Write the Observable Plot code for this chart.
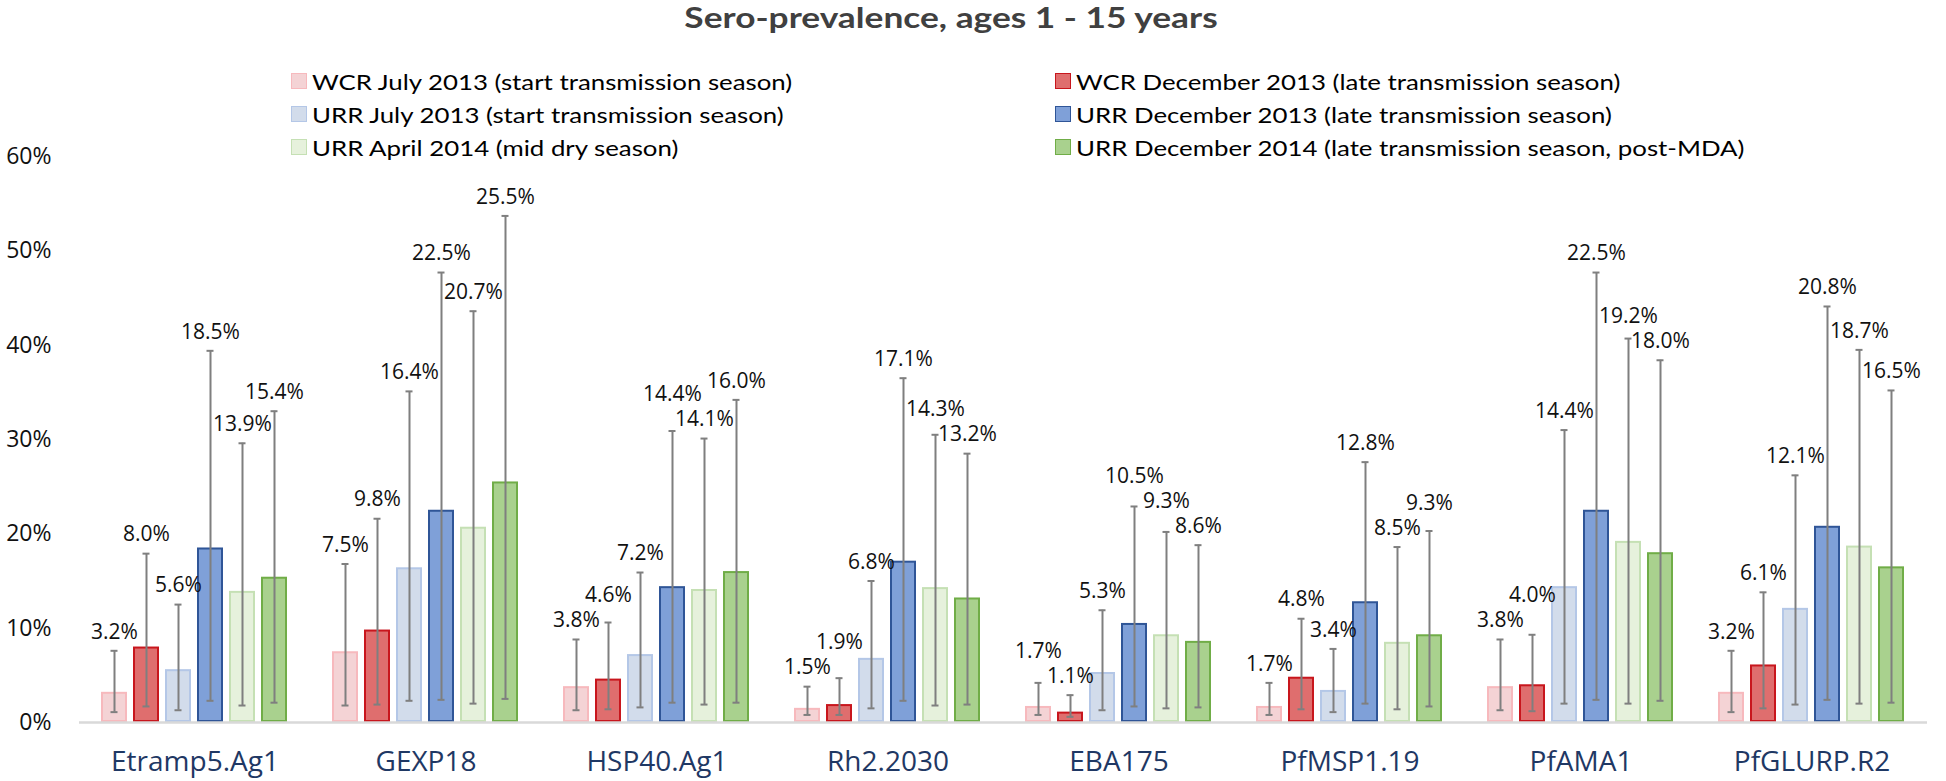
<!DOCTYPE html>
<html>
<head>
<meta charset="utf-8">
<script src="https://cdn.jsdelivr.net/npm/d3@7"></script>
<script src="https://cdn.jsdelivr.net/npm/@observablehq/plot@0.6"></script>
<style>
  html, body { margin: 0; padding: 0; background: #fff; }
  #wrap { position: relative; width: 1946px; height: 781px; overflow: hidden; }
  #chart { position: absolute; left: 0; top: 0; }
  #title { position: absolute; top: 0px; left: 951px; white-space: nowrap; transform-origin: center;
           font-family: Lato, "Open Sans", sans-serif; font-weight: 700; font-size: 29px; color: #404040; line-height: 34px; }
  .leg { position: absolute; display: flex; align-items: center; white-space: nowrap;
         font-family: Lato, "Open Sans", sans-serif; font-size: 21px; color: #000; height: 24px; }
  .leg .sw { width: 16px; height: 16px; box-sizing: border-box; border: 1.5px solid; margin-right: 5px; flex: none; }
  .leg span { display: inline-block; transform-origin: left center; }
</style>
</head>
<body>
<div id="wrap">
  <div id="chart"></div>
  <div id="title"></div>
  <div id="legend"></div>
</div>
<script>
const titleText = "Sero-prevalence, ages 1 - 15 years";
const antigens = ["Etramp5.Ag1", "GEXP18", "HSP40.Ag1", "Rh2.2030", "EBA175", "PfMSP1.19", "PfAMA1", "PfGLURP.R2"];
const series = [
  "WCR July 2013 (start transmission season)",
  "WCR December 2013 (late transmission season)",
  "URR July 2013 (start transmission season)",
  "URR December 2013 (late transmission season)",
  "URR April 2014 (mid dry season)",
  "URR December 2014 (late transmission season, post-MDA)"
];
// sero-prevalence (%) per antigen, in series order
const values = [
  [3.2, 8.0, 5.6, 18.5, 13.9, 15.4],
  [7.5, 9.8, 16.4, 22.5, 20.7, 25.5],
  [3.8, 4.6, 7.2, 14.4, 14.1, 16.0],
  [1.5, 1.9, 6.8, 17.1, 14.3, 13.2],
  [1.7, 1.1, 5.3, 10.5, 9.3, 8.6],
  [1.7, 4.8, 3.4, 12.8, 8.5, 9.3],
  [3.8, 4.0, 14.4, 22.5, 19.2, 18.0],
  [3.2, 6.1, 12.1, 20.8, 18.7, 16.5]
];
// lower 95% CI (%)
const lower = [
  [1.1, 1.7, 1.3, 2.3, 1.8, 2.1],
  [1.8, 1.9, 2.3, 2.4, 2.0, 2.5],
  [1.3, 1.4, 1.6, 2.1, 1.9, 2.1],
  [0.8, 0.8, 1.5, 2.3, 1.8, 1.9],
  [0.8, 0.6, 1.3, 1.7, 1.5, 1.6],
  [0.8, 1.4, 1.1, 2.0, 1.4, 1.7],
  [1.3, 1.2, 2.0, 2.4, 2.0, 2.3],
  [1.1, 1.5, 1.9, 2.4, 2.0, 2.1]
];
// upper 95% CI (%)
const upper = [
  [7.6, 17.9, 12.5, 39.4, 29.6, 33.0],
  [16.8, 21.6, 35.1, 47.7, 43.6, 53.7],
  [8.8, 10.6, 15.9, 30.9, 30.1, 34.2],
  [3.8, 4.7, 15.0, 36.5, 30.5, 28.5],
  [4.2, 2.9, 11.9, 22.9, 20.2, 18.8],
  [4.2, 11.0, 7.8, 27.6, 18.6, 20.3],
  [8.8, 9.3, 31.0, 47.7, 40.7, 38.4],
  [7.6, 13.8, 26.2, 44.1, 39.5, 35.2]
];
const yTicks = [0, 10, 20, 30, 40, 50, 60];

const fills   = ["#f4d3d5", "#df6e6e", "#d2dceb", "#7fa0d8", "#e6f1dc", "#a9d18e"];
const strokes = ["#f7b9bd", "#c8161d", "#b4c7e7", "#2f5597", "#c5e0b4", "#70ad47"];

const W = 1946, H = 781, mTop = 156, mBottom = 59, mLeft = 76, mRight = 16;
const yScale = Plot.scale({y: {domain: [0, 60], range: [H - mBottom, mTop]}});

// value labels sit above the upper whisker; adjacent labels that would collide
// are dodged upward (the taller whisker's label goes on top)
const labelGap = 19, minSep = 25;
const labelY = upper.map(u => {
  const pos = u.map(h => yScale.apply(h) - labelGap);
  for (let iter = 0; iter < 50; iter++) {
    let changed = false;
    for (let j = 1; j < pos.length; j++) {
      if (Math.abs(pos[j] - pos[j - 1]) < minSep) {
        if (u[j] >= u[j - 1]) pos[j] = Math.min(pos[j], pos[j - 1] - minSep);
        else pos[j - 1] = Math.min(pos[j - 1], pos[j] - minSep);
        changed = true;
      }
    }
    if (!changed) break;
  }
  return pos.map(p => yScale.invert(p));
});

const rows = [];
antigens.forEach((a, i) => series.forEach((s, j) => {
  rows.push({antigen: a, series: s, value: values[i][j], lo: lower[i][j], hi: upper[i][j], ly: labelY[i][j], k: j});
}));

const chart = Plot.plot({
  width: W,
  height: H,
  marginLeft: mLeft,
  marginRight: mRight,
  marginTop: mTop,
  marginBottom: mBottom,
  style: {fontFamily: "'Open Sans', sans-serif", background: "white"},
  fx: {domain: antigens, padding: 0, label: null},
  x: {domain: series, paddingInner: 0.18, paddingOuter: 0.6, axis: null},
  y: {domain: [0, 60], label: null},
  color: {domain: series, range: fills},
  marks: [
    Plot.axisY({ticks: yTicks, tickFormat: d => d + "%", tickSize: 0, tickPadding: 28, fontSize: 23, color: "#111", label: null}),
    Plot.axisFx({anchor: "bottom", tickSize: 0, tickPadding: 29, fontSize: 28, color: "#1f3864", label: null}),
    Plot.barY(rows, {fx: "antigen", x: "series", y: "value", fill: "series",
      stroke: d => strokes[d.k], strokeWidth: 2, inset: 1}),
    Plot.ruleY([0], {stroke: "#d9d9d9", strokeWidth: 2.5}),
    Plot.ruleX(rows, {fx: "antigen", x: "series", y1: "lo", y2: "hi", stroke: "#7f7f7f", strokeWidth: 2}),
    Plot.tickY(rows, {fx: "antigen", x: "series", y: "lo", stroke: "#7f7f7f", strokeWidth: 2, insetLeft: 9.5, insetRight: 9.5}),
    Plot.tickY(rows, {fx: "antigen", x: "series", y: "hi", stroke: "#7f7f7f", strokeWidth: 2, insetLeft: 9.5, insetRight: 9.5}),
    Plot.text(rows, {fx: "antigen", x: "series", y: "ly", text: d => d.value.toFixed(1) + "%",
      fontSize: 21, fill: "#111"})
  ]
});
document.getElementById("chart").appendChild(chart);

const titleEl = document.getElementById("title");
titleEl.textContent = titleText;

// legend: two columns, three rows
const legend = document.getElementById("legend");
const colLeft = [291, 1055];
const rowTop = [69, 102, 135];
const spans = [];
series.forEach((s, j) => {
  const col = j % 2, row = Math.floor(j / 2);
  const item = document.createElement("div");
  item.className = "leg";
  item.style.left = colLeft[col] + "px";
  item.style.top = rowTop[row] + "px";
  const sw = document.createElement("div");
  sw.className = "sw";
  sw.style.background = fills[j];
  sw.style.borderColor = strokes[j];
  const t = document.createElement("span");
  t.textContent = s;
  item.appendChild(sw);
  item.appendChild(t);
  legend.appendChild(item);
  spans.push(t);
});

// the reference's text is horizontally wider than these fonts: stretch to match its widths
function fitText() {
  const tw = titleEl.offsetWidth;
  titleEl.style.transform = `translateX(-50%) scaleX(${533 / tw})`;
  const k = (481 / spans[0].offsetWidth + 668 / spans[5].offsetWidth) / 2;
  spans.forEach(sp => sp.style.transform = `scaleX(${k})`);
}
fitText();
if (document.fonts && document.fonts.ready) document.fonts.ready.then(fitText);
</script>
</body>
</html>
